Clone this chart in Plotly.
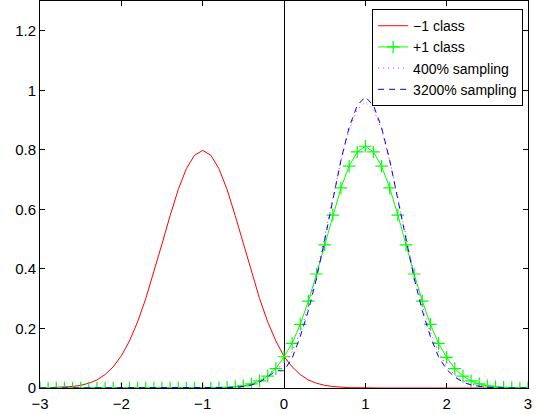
import plotly.graph_objects as go

x_vals = [-3.0, -2.9, -2.8, -2.7, -2.6, -2.5, -2.4, -2.3, -2.2, -2.1,
          -2.0, -1.9, -1.8, -1.7, -1.6, -1.5, -1.4, -1.3, -1.2, -1.1,
          -1.0, -0.9, -0.8, -0.7, -0.6, -0.5, -0.4, -0.3, -0.2, -0.1,
          0.0, 0.1, 0.2, 0.3, 0.4, 0.5, 0.6, 0.7, 0.8, 0.9,
          1.0, 1.1, 1.2, 1.3, 1.4, 1.5, 1.6, 1.7, 1.8, 1.9,
          2.0, 2.1, 2.2, 2.3, 2.4, 2.5, 2.6, 2.7, 2.8, 2.9, 3.0]

neg_class = [0.000, 0.001, 0.001, 0.002, 0.005, 0.009, 0.016, 0.027, 0.045, 0.071,
             0.108, 0.158, 0.222, 0.300, 0.388, 0.484, 0.579, 0.667, 0.737, 0.782,
             0.798, 0.782, 0.737, 0.667, 0.579, 0.484, 0.388, 0.300, 0.222, 0.158,
             0.106, 0.071, 0.045, 0.027, 0.016, 0.009, 0.005, 0.002, 0.001, 0.001,
             0.000, 0, 0, 0, 0, 0, 0, 0, 0, 0,
             0, 0, 0, 0, 0, 0, 0, 0, 0, 0, 0]

pos_class = [0, 0, 0, 0, 0, 0, 0, 0, 0, 0,
             0, 0, 0, 0, 0, 0, 0, 0, 0, 0,
             0.000, 0.000, 0.001, 0.002, 0.004, 0.007, 0.014, 0.024, 0.040, 0.065,
             0.105, 0.150, 0.214, 0.292, 0.383, 0.481, 0.581, 0.672, 0.745, 0.793,
             0.812, 0.793, 0.745, 0.672, 0.581, 0.481, 0.383, 0.292, 0.214, 0.150,
             0.103, 0.065, 0.040, 0.024, 0.014, 0.007, 0.004, 0.002, 0.001, 0.000, 0.000]

sampling_400 = [0, 0, 0, 0, 0, 0, 0, 0, 0, 0,
                0, 0, 0, 0, 0, 0, 0, 0, 0, 0,
                0.000, 0.000, 0.001, 0.001, 0.003, 0.006, 0.013, 0.024, 0.044, 0.068,
                0.075, 0.122, 0.188, 0.275, 0.383, 0.507, 0.638, 0.763, 0.867, 0.936,
                0.960, 0.936, 0.867, 0.763, 0.638, 0.507, 0.383, 0.275, 0.188, 0.122,
                0.072, 0.044, 0.024, 0.013, 0.006, 0.003, 0.001, 0.001, 0.000, 0.000, 0.000]

sampling_3200 = [0, 0, 0, 0, 0, 0, 0, 0, 0, 0,
                 0, 0, 0, 0, 0, 0, 0, 0, 0, 0,
                 0, 0, 0.000, 0.001, 0.002, 0.005, 0.010, 0.020, 0.037, 0.058,
                 0.058, 0.100, 0.173, 0.260, 0.369, 0.496, 0.633, 0.765, 0.875, 0.949,
                 0.978, 0.949, 0.875, 0.765, 0.633, 0.496, 0.369, 0.260, 0.173, 0.105,
                 0.062, 0.037, 0.020, 0.010, 0.005, 0.002, 0.001, 0.000, 0, 0, 0]

x_ticks = [-3, -2, -1, 0, 1, 2, 3]
x_tick_labels = ["\u22123", "\u22122", "\u22121", "0", "1", "2", "3"]
y_ticks = [0, 0.2, 0.4, 0.6, 0.8, 1, 1.2]
y_tick_labels = ["0", "0.2", "0.4", "0.6", "0.8", "1", "1.2"]

FONT = "Liberation Sans, Arial, Helvetica, sans-serif"

fig = go.Figure()
fig.add_trace(go.Scatter(x=x_vals, y=neg_class, mode="lines", name="\u22121 class",
                         line=dict(color="#ff0000", width=1)))
fig.add_trace(go.Scatter(x=x_vals, y=pos_class, mode="lines+markers", name="+1 class",
                         line=dict(color="#00ff00", width=1),
                         marker=dict(symbol="cross-thin", size=9,
                                     line=dict(color="#00ff00", width=1.2))))
fig.add_trace(go.Scatter(x=x_vals, y=sampling_400, mode="lines", name="400% sampling",
                         line=dict(color="#ff00ff", width=1, dash="1px,4px")))
fig.add_trace(go.Scatter(x=x_vals, y=sampling_3200, mode="lines", name="3200% sampling",
                         line=dict(color="#0000ff", width=1, dash="6px,5px")))

axis_common = dict(showgrid=False, showline=True, linecolor="black", linewidth=1,
                   mirror="ticks", ticks="inside", ticklen=5, tickcolor="black",
                   tickfont=dict(family=FONT, size=15, color="black"))

fig.update_layout(
    width=544, height=414,
    margin=dict(l=40, r=16, t=1, b=26),
    paper_bgcolor="white", plot_bgcolor="white",
    font=dict(family=FONT, size=15, color="black"),
    xaxis=dict(range=[-3, 3], tickvals=x_ticks, ticktext=x_tick_labels,
               ticklabelstandoff=2,
               zeroline=True, zerolinecolor="black", zerolinewidth=1, **axis_common),
    yaxis=dict(range=[0, 1.3], tickvals=y_ticks, ticktext=y_tick_labels,
               zeroline=False, **axis_common),
    legend=dict(x=0.99, y=0.979, xanchor="right", yanchor="top",
                bgcolor="white", bordercolor="black", borderwidth=1,
                itemwidth=30,
                font=dict(family=FONT, size=14), tracegroupgap=0),
    showlegend=True,
)

fig.write_html("out.html", config={"displayModeBar": False},
               post_script="document.body.style.margin='0';document.body.style.padding='0';")
